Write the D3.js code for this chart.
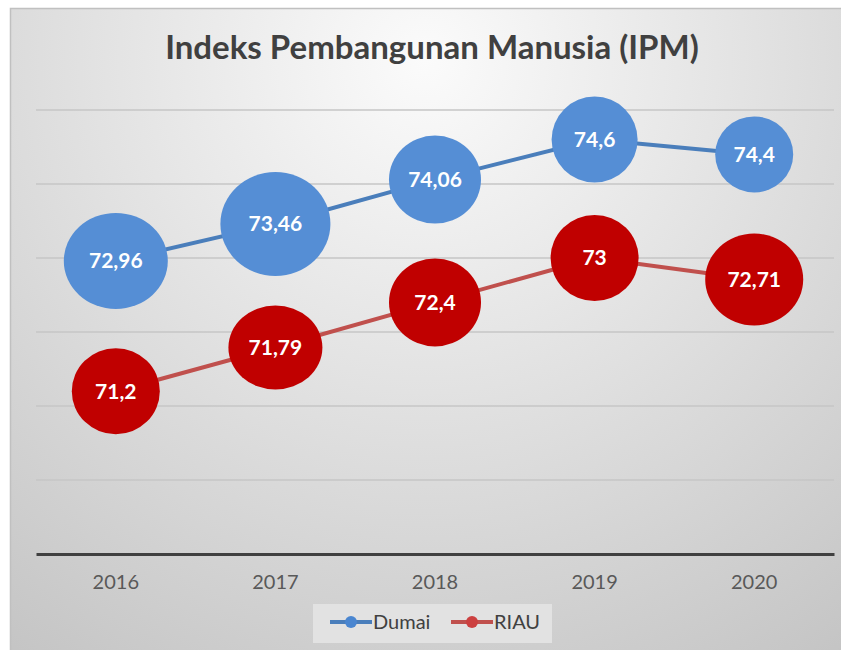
<!DOCTYPE html>
<html><head><meta charset="utf-8">
<script src="https://cdn.jsdelivr.net/npm/d3@7"></script>
<style>body{margin:0;background:#fff}svg{display:block}</style>
</head><body>
<svg id="c" width="841" height="650"></svg>
<script>
const years = ["2016","2017","2018","2019","2020"];
const dumai = [72.96, 73.46, 74.06, 74.6, 74.4];
const riau = [71.2, 71.79, 72.4, 73, 72.71];
const seriesNames = ["Dumai","RIAU"];
const yTicks = [70,71,72,73,74,75];
const labelTexts = {Dumai:["72,96","73,46","74,06","74,6","74,4"], RIAU:["71,2","71,79","72,4","73","72,71"]};
// label bubble radii (style)
const bubbleRx = {Dumai:[52,55,46,43,39], RIAU:[44,47,46,44,49]};
const bubbleRy = {Dumai:[48,52,44,43,38], RIAU:[43,42,44,43,46]};

const svg = d3.select("#c");
const defs = svg.append("defs");
const rg = defs.append("radialGradient").attr("id","bg").attr("gradientUnits","userSpaceOnUse")
  .attr("cx",425).attr("cy",60).attr("r",730);
rg.append("stop").attr("offset",0).attr("stop-color","#fbfbfb");
rg.append("stop").attr("offset",1).attr("stop-color","#c4c4c4");

svg.append("rect").attr("x",10).attr("y",8).attr("width",831).attr("height",642)
  .attr("fill","url(#bg)");
svg.append("path").attr("d","M10.5,650 V8.5 H841").attr("fill","none").attr("stroke","#c0c0c0").attr("stroke-width",1.5);

svg.append("text").attr("x",432).attr("y",59).attr("text-anchor","middle")
  .attr("font-family","Lato, 'Open Sans', sans-serif").attr("font-weight","bold")
  .attr("font-size",33).attr("fill","#404040").text("Indeks Pembangunan Manusia (IPM)");

const x = d3.scaleBand().domain(years).range([36,834]);
const y = d3.scaleLinear().domain([69,75]).range([554,110]);

const grid = svg.append("g");
grid.selectAll("line").data(yTicks).join("line")
  .attr("x1",36).attr("x2",834).attr("y1",d=>y(d)).attr("y2",d=>y(d))
  .attr("stroke","#c6c6c6").attr("stroke-width",1.5);

const xAxis = svg.append("g").attr("transform","translate(0,554)")
  .call(d3.axisBottom(x).tickSize(0).tickPadding(21));
xAxis.select(".domain").attr("stroke","#404040").attr("stroke-width",3);
xAxis.selectAll("text").attr("font-family","Lato, sans-serif").attr("font-size",20).attr("fill","#595959");

const series = [
  {name:"Dumai", values:dumai, line:"#4a7ebb", fill:"#558ed5"},
  {name:"RIAU", values:riau, line:"#c0504d", fill:"#c00000"}
];
const cx = d => x(d) + x.bandwidth()/2;
const lineGen = d3.line().x((d,i)=>cx(years[i])).y(d=>y(d));

series.forEach(s=>{
  svg.append("path").datum(s.values).attr("d",lineGen).attr("fill","none")
    .attr("stroke",s.line).attr("stroke-width",4);
});
series.forEach(s=>{
  const g = svg.append("g");
  g.selectAll("ellipse").data(s.values).join("ellipse")
    .attr("cx",(d,i)=>cx(years[i])).attr("cy",d=>y(d))
    .attr("rx",(d,i)=>bubbleRx[s.name][i]).attr("ry",(d,i)=>bubbleRy[s.name][i])
    .attr("fill",s.fill);
  g.selectAll("text").data(s.values).join("text")
    .attr("x",(d,i)=>cx(years[i])).attr("y",d=>y(d)).attr("dy","0.35em")
    .attr("text-anchor","middle").attr("font-family","Lato, sans-serif")
    .attr("font-weight","bold").attr("font-size",21).attr("fill","#ffffff")
    .text((d,i)=>labelTexts[s.name][i]);
});

// legend
const lg = svg.append("g");
lg.append("rect").attr("x",313).attr("y",604).attr("width",239).attr("height",39).attr("fill","#e2e2e2");
const legItems = [{name:seriesNames[0],c:"#4a7ebb",m:"#4a86d0",x:330},{name:seriesNames[1],c:"#c0504d",m:"#cc4040",x:451}];
legItems.forEach(it=>{
  lg.append("line").attr("x1",it.x).attr("x2",it.x+42).attr("y1",622).attr("y2",622).attr("stroke",it.c).attr("stroke-width",4);
  lg.append("circle").attr("cx",it.x+21).attr("cy",622).attr("r",6).attr("fill",it.m);
  lg.append("text").attr("x",it.x+43).attr("y",622).attr("dy","0.35em").attr("font-family","Lato, sans-serif")
    .attr("font-size",20).attr("fill","#404040").text(it.name);
});
</script>
</body></html>
